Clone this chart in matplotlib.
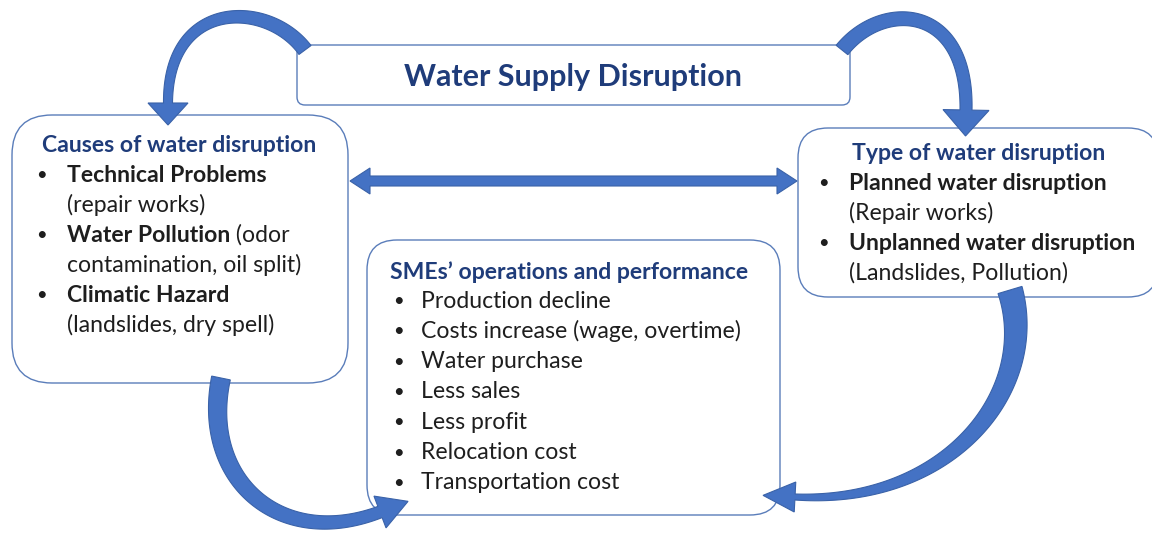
import matplotlib.pyplot as plt
from matplotlib.patches import FancyBboxPatch, Polygon
import numpy as np

plt.rcParams['font.family'] = ['Lato', 'DejaVu Sans']

TITLE = 'Water Supply Disruption'

causes_title = 'Causes of water disruption'
causes_lines = [
    ('•', 'Technical Problems', ''),
    ('', '', '(repair works)'),
    ('•', 'Water Pollution', ' (odor'),
    ('', '', 'contamination, oil split)'),
    ('•', 'Climatic Hazard', ''),
    ('', '', '(landslides, dry spell)'),
]

type_title = 'Type of water disruption'
type_lines = [
    ('•', 'Planned water disruption', ''),
    ('', '', '(Repair works)'),
    ('•', 'Unplanned water disruption', ''),
    ('', '', '(Landslides, Pollution)'),
]

sme_title = "SMEs\u2019 operations and performance"
sme_lines = ['Production decline', 'Costs increase (wage, overtime)', 'Water purchase',
             'Less sales', 'Less profit', 'Relocation cost', 'Transportation cost']

NAVY = '#1F3C7A'
INK = '#1E1E1E'
BLUE = '#4472C4'
EDGE = '#5A7DBA'
FS = 16.6

fig = plt.figure(figsize=(11.52, 5.34), dpi=100)
ax = fig.add_axes([0, 0, 1, 1])
ax.set_xlim(0, 1152)
ax.set_ylim(534, 0)
ax.axis('off')


def box(x, y, w, h, r):
    ax.add_patch(FancyBboxPatch((x, y), w, h, boxstyle='round,pad=0,rounding_size=%g' % r,
                                facecolor='white', edgecolor=EDGE, lw=1.0, zorder=1))


def curved(P, w0, w1, hl, hw):
    P = np.array(P, dtype=float)
    t = np.linspace(0, 1, 120)[:, None]
    pts = (1-t)**3*P[0] + 3*(1-t)**2*t*P[1] + 3*(1-t)*t**2*P[2] + t**3*P[3]
    d = 3*(1-t)**2*(P[1]-P[0]) + 6*(1-t)*t*(P[2]-P[1]) + 3*t**2*(P[3]-P[2])
    d = d / np.linalg.norm(d, axis=1)[:, None]
    n = np.column_stack([-d[:, 1], d[:, 0]])
    w = (w0 + (w1 - w0)*t) / 2
    left = pts + n*w
    right = pts - n*w
    u, nv = d[-1], n[-1]
    head = [P[3] + nv*hw/2, P[3] + u*hl, P[3] - nv*hw/2]
    poly = np.vstack([left, head, right[::-1]])
    ax.add_patch(Polygon(poly, closed=True, facecolor=BLUE, edgecolor='#3A62A8', lw=0.8, zorder=3))


# boxes
box(297, 45, 553, 60, 8)
box(12, 115, 336, 268, 40)
box(798, 128, 360, 169, 30)
box(367, 240, 413, 275, 30)

ax.text(573, 77, TITLE, ha='center', va='center', fontsize=22, fontweight='bold', color=NAVY, zorder=4)


def block(title, tx, ty, lines, bx, lx, y0, dy):
    ax.text(tx, ty, title, ha='left', va='center', fontsize=FS, fontweight='bold', color=NAVY, zorder=4)
    for i, (b, bold, reg) in enumerate(lines):
        y = y0 + i*dy
        if b:
            ax.text(bx, y, b, ha='left', va='center', fontsize=FS*0.8, color=INK, zorder=4)
        if bold:
            t = ax.text(lx, y, bold, ha='left', va='center', fontsize=FS, fontweight='bold', color=INK, zorder=4)
            if reg:
                ax.annotate(reg, xy=(1, 0.5), xycoords=t, ha='left', va='center',
                            fontsize=FS, color=INK, zorder=4)
        elif reg:
            ax.text(lx, y, reg, ha='left', va='center', fontsize=FS, color=INK, zorder=4)


block(causes_title, 42, 145, causes_lines, 36, 67, 175, 30)
block(type_title, 852, 153, type_lines, 818, 849, 183, 30)
block(sme_title, 390, 272, [('•', '', s) for s in sme_lines], 393, 421, 301, 30.3)

# double arrow between the two upper boxes
yc, x0, x1, hl, hw, sw = 181, 350, 797, 20, 13, 5
ax.add_patch(Polygon([(x0, yc), (x0+hl, yc-hw), (x0+hl, yc-sw), (x1-hl, yc-sw), (x1-hl, yc-hw),
                      (x1, yc), (x1-hl, yc+hw), (x1-hl, yc+sw), (x0+hl, yc+sw), (x0+hl, yc+hw)],
                     closed=True, facecolor=BLUE, edgecolor='#3A62A8', lw=0.8, zorder=3))

# curved arrows
curved([(305, 50), (268, 0), (168, -2), (168, 103)], 15, 9, 22, 40)
curved([(842, 50), (882, 0), (968, 3), (966, 110)], 15, 12, 26, 46)
curved([(221, 378), (200, 480), (280, 550), (380, 512)], 19, 12, 30, 34)
curved([(1010, 290), (1040, 390), (950, 505), (795, 497)], 25, 6, 32, 30)

fig.savefig('out.png', dpi=100)
